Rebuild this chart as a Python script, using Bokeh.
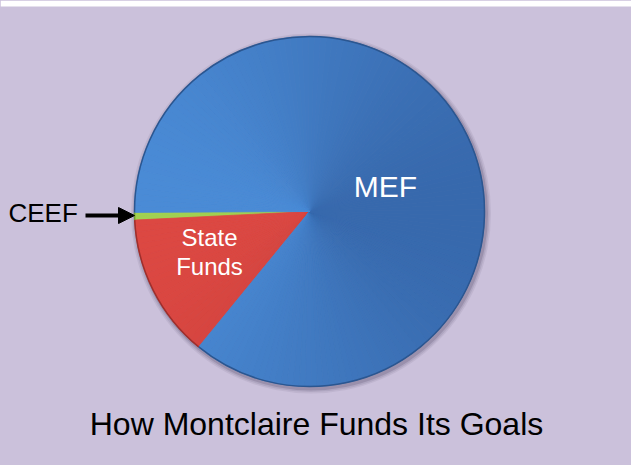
import numpy as np
from bokeh.plotting import figure
from bokeh.models import ColumnDataSource, Arrow, NormalHead, Range1d, GlobalInlineStyleSheet
from bokeh.core.properties import value
from bokeh.embed import file_html
from bokeh.resources import INLINE

# ---- data ----
slices = ["CEEF", "State Funds", "MEF"]
shares = [0.7, 13.3, 86.0]
# (light side colour, dark side colour) for each slice
light_cols = ["#a2d150", "#dc4842", "#4a8bd6"]
dark_cols = ["#86b83c", "#bb3834", "#3769ad"]
rim_cols = ["#6f9a2e", "#9e2f2c", "#2b5690"]
title_text = "How Montclaire Funds Its Goals"

W, H = 631, 465
BG = "#cbc1db"

p = figure(width=W, height=H, output_backend="svg", toolbar_location=None,
           x_range=Range1d(0, W), y_range=Range1d(0, H),
           background_fill_color=BG, border_fill_color=BG, min_border=0,
           outline_line_color=None)
p.axis.visible = False
p.grid.visible = False

# white strip at the very top
p.quad(left=0, right=W, bottom=H - 6, top=H, fill_color="white", line_color=None)


def hex2rgb(h):
    h = h.lstrip("#")
    return np.array([int(h[i:i + 2], 16) for i in (0, 2, 4)], dtype=float)


def rgb2hex(c):
    return "#%02x%02x%02x" % tuple(int(round(v)) for v in c)


frac = np.array(shares) / sum(shares)
start0 = np.deg2rad(180.3)
ends = start0 + np.cumsum(frac) * 2 * np.pi
starts = np.concatenate([[start0], ends[:-1]])
cx, cy, r = 309, 254, 175

# soft shadow around the pie
for k, a in [(5, 0.10), (3.5, 0.15), (2, 0.25)]:
    p.circle(x=cx + 1.5, y=cy - 2, radius=r + k, fill_color="#5a5070", fill_alpha=a, line_color=None)

seg = dict(s=[], e=[], c=[])
step = 2 * np.pi / 180
for i in range(len(slices)):
    n = max(1, int(np.ceil((ends[i] - starts[i]) / step)))
    edges = np.linspace(starts[i], ends[i], n + 1)
    lc, dc = hex2rgb(light_cols[i]), hex2rgb(dark_cols[i])
    for a0, a1 in zip(edges[:-1], edges[1:]):
        t = (1 - np.cos((a0 + a1) / 2)) / 2
        seg["s"].append(a0)
        seg["e"].append(a1)
        seg["c"].append(rgb2hex(dc + (lc - dc) * t))
p.wedge(x=cx, y=cy, radius=r, start_angle="s", end_angle="e",
        fill_color="c", line_color="c", line_width=0.8, source=ColumnDataSource(seg))

# rims of the slices
src = ColumnDataSource(dict(start=starts, end=ends, rim=rim_cols))
p.arc(x=cx, y=cy, radius=r, start_angle="start", end_angle="end",
      line_color="rim", line_width=1.5, source=src)

font = value("Liberation Sans")
p.text(x=[385], y=[279], text=["MEF"], text_font=font, text_font_size="30px",
       text_color="white", text_align="center", text_baseline="alphabetic")
p.text(x=[209, 209], y=[228, 199], text=["State", "Funds"], text_font=font,
       text_font_size="24px", text_color="white", text_align="center",
       text_baseline="alphabetic")
p.text(x=[8], y=[253], text=["CEEF"], text_font=font, text_font_size="26px",
       text_color="black", text_align="left", text_baseline="alphabetic")
p.text(x=[316], y=[42], text=[title_text], text_font=font, text_font_size="32px",
       text_color="black", text_align="center", text_baseline="alphabetic")

p.add_layout(Arrow(end=NormalHead(size=16, fill_color="black", line_color="black"),
                   x_start=85, y_start=250, x_end=134, y_end=250,
                   line_width=4, line_color="black"))

p.stylesheets = [GlobalInlineStyleSheet(css="html{background:%s !important;} body{background:transparent !important; overflow:hidden;}" % BG)]

open("out.html", "w").write(file_html(p, INLINE))
